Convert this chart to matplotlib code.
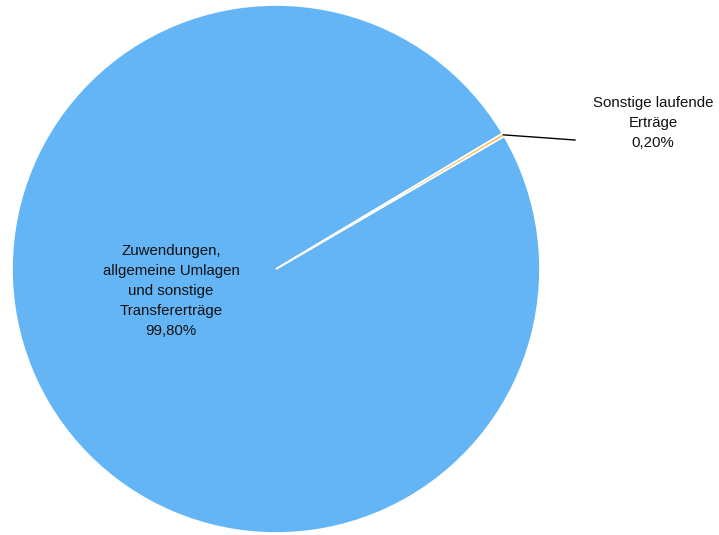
import numpy as np
import matplotlib
matplotlib.use("Agg")
import matplotlib.pyplot as plt

plt.rcParams['font.family'] = ['Liberation Sans', 'DejaVu Sans']

labels = ["Zuwendungen,\nallgemeine Umlagen\nund sonstige\nTransfererträge", "Sonstige laufende\nErträge"]
values = [99.80, 0.20]
pct_labels = ["99,80%", "0,20%"]
colors = ["#64B5F6", "#FFB74D"]

W, H = 719, 535
fig = plt.figure(figsize=(W / 100, H / 100), dpi=100)
ax = fig.add_axes([0, 0, 1, 1])

cx, cy, r = 276, 266, 264
wedges, _ = ax.pie(values, colors=colors, startangle=30.9, counterclock=True,
                   center=(cx, cy), radius=r, frame=True,
                   wedgeprops=dict(edgecolor='white', linewidth=1.2))
ax.set_xlim(0, W)
ax.set_ylim(0, H)
ax.set_aspect('equal')
ax.axis('off')

fs = 10.8
# Big slice label
ax.text(171, H - 291, labels[0] + "\n" + pct_labels[0], ha='center', va='center',
        fontsize=fs, linespacing=1.55, color='#111111')

# Small slice leader line and label
w = wedges[1]
mid = np.deg2rad((w.theta1 + w.theta2) / 2)
x0, y0 = cx + r * np.cos(mid), cy + r * np.sin(mid)
ax.plot([x0, 575], [y0, H - 140], color='black', lw=1.0)
ax.text(653, H - 123, labels[1] + "\n" + pct_labels[1], ha='center', va='center',
        fontsize=fs, linespacing=1.55, color='#111111')

fig.savefig("out.png", dpi=100)
